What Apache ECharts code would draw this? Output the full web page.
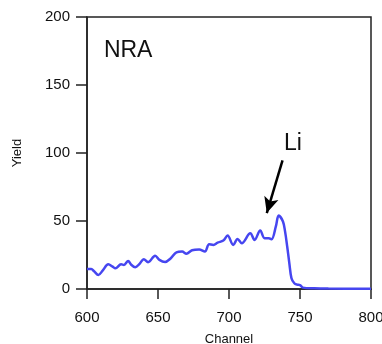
<!DOCTYPE html>
<html><head><meta charset="utf-8">
<script src="https://cdn.jsdelivr.net/npm/echarts@6/dist/echarts.min.js"></script>
<style>html,body{margin:0;padding:0;background:#fff}#c{width:382px;height:344px}</style>
</head><body><div id="c"></div>
<script>
var channels = [600,603,605,608,611,615,618,620,624,626,629,631,634,637,640,643,648,651,655,659,663,667,670,674,679,683,686,689,692,696,699,703,706,709,715,718,722,725,728,730,733,735,738,739.5,741,742.5,744,746,748,750,752,760,770,800];
var yields   = [14.7,14.7,13,10.3,13.5,18.2,16.5,15.2,18.2,17.7,20.6,18,16,18.5,21.9,19.7,24.5,21.4,19.9,22.6,27,27.5,26,28.5,29,27.5,32.9,32.4,34.1,35.6,39.3,32.4,36.8,33.7,41,36.1,43,37.4,37.4,36.6,46,54,49.6,42.2,31.2,18.9,7.9,4.2,3.2,2.9,1,0.5,0.3,0.2];
var xTicks = [600,650,700,750,800];
var yTicks = [0,50,100,150,200];
var panelLabel = 'NRA';
var peakLabel = 'Li';
var peakLabelPos = [745, 107];
var panelLabelPos = [629, 175];
var arrowFrom = [737.7, 94.5];
var arrowTo = [726.6, 55.8];

var data = channels.map(function(c,i){return [c, yields[i]];});
var chart = echarts.init(document.getElementById('c'));
var axisCol = '#222';
var font = 'Liberation Sans, Arial, sans-serif';
chart.setOption({
  animation:false,
  grid:{left:87,top:17,right:11,bottom:55,outerBoundsMode:'none',containLabel:false,show:true,borderColor:axisCol,borderWidth:1.5,backgroundColor:'transparent'},
  xAxis:{type:'value',min:xTicks[0],max:xTicks[xTicks.length-1],interval:50,name:'Channel',nameLocation:'middle',nameGap:44,
    nameTextStyle:{fontFamily:font,fontSize:13,color:'#111'},
    axisLine:{lineStyle:{color:axisCol,width:1.5}},
    axisTick:{inside:false,length:10,lineStyle:{color:axisCol,width:1.5}},
    axisLabel:{fontFamily:font,fontSize:15,color:'#111',margin:21},
    splitLine:{show:false}},
  yAxis:{type:'value',min:yTicks[0],max:yTicks[yTicks.length-1],interval:50,name:'Yield',nameLocation:'middle',nameGap:63,
    nameTextStyle:{fontFamily:font,fontSize:13,color:'#111'},
    axisLine:{show:true,lineStyle:{color:axisCol,width:1.5}},
    axisTick:{show:true,length:11,lineStyle:{color:axisCol,width:1.5}},
    axisLabel:{fontFamily:font,fontSize:15,color:'#111',margin:17},
    splitLine:{show:false}},
  series:[{
    type:'line',data:data,smooth:0.35,showSymbol:false,symbol:'none',
    lineStyle:{color:'#4646f0',width:2.5},
    markPoint:{symbol:'circle',symbolSize:1,silent:true,itemStyle:{color:'rgba(0,0,0,0)'},
      label:{show:true,fontFamily:font,fontSize:23,color:'#111',position:'inside'},
      data:[
        {coord:panelLabelPos,value:1,label:{formatter:panelLabel}},
        {coord:peakLabelPos,value:1,label:{formatter:peakLabel}}
      ]},
    markLine:{silent:true,symbol:['none','arrow'],symbolSize:[11,16],
      lineStyle:{color:'#000',width:2.5,type:'solid'},label:{show:false},
      data:[[{coord:arrowFrom},{coord:arrowTo}]]}
  }]
});
</script></body></html>
